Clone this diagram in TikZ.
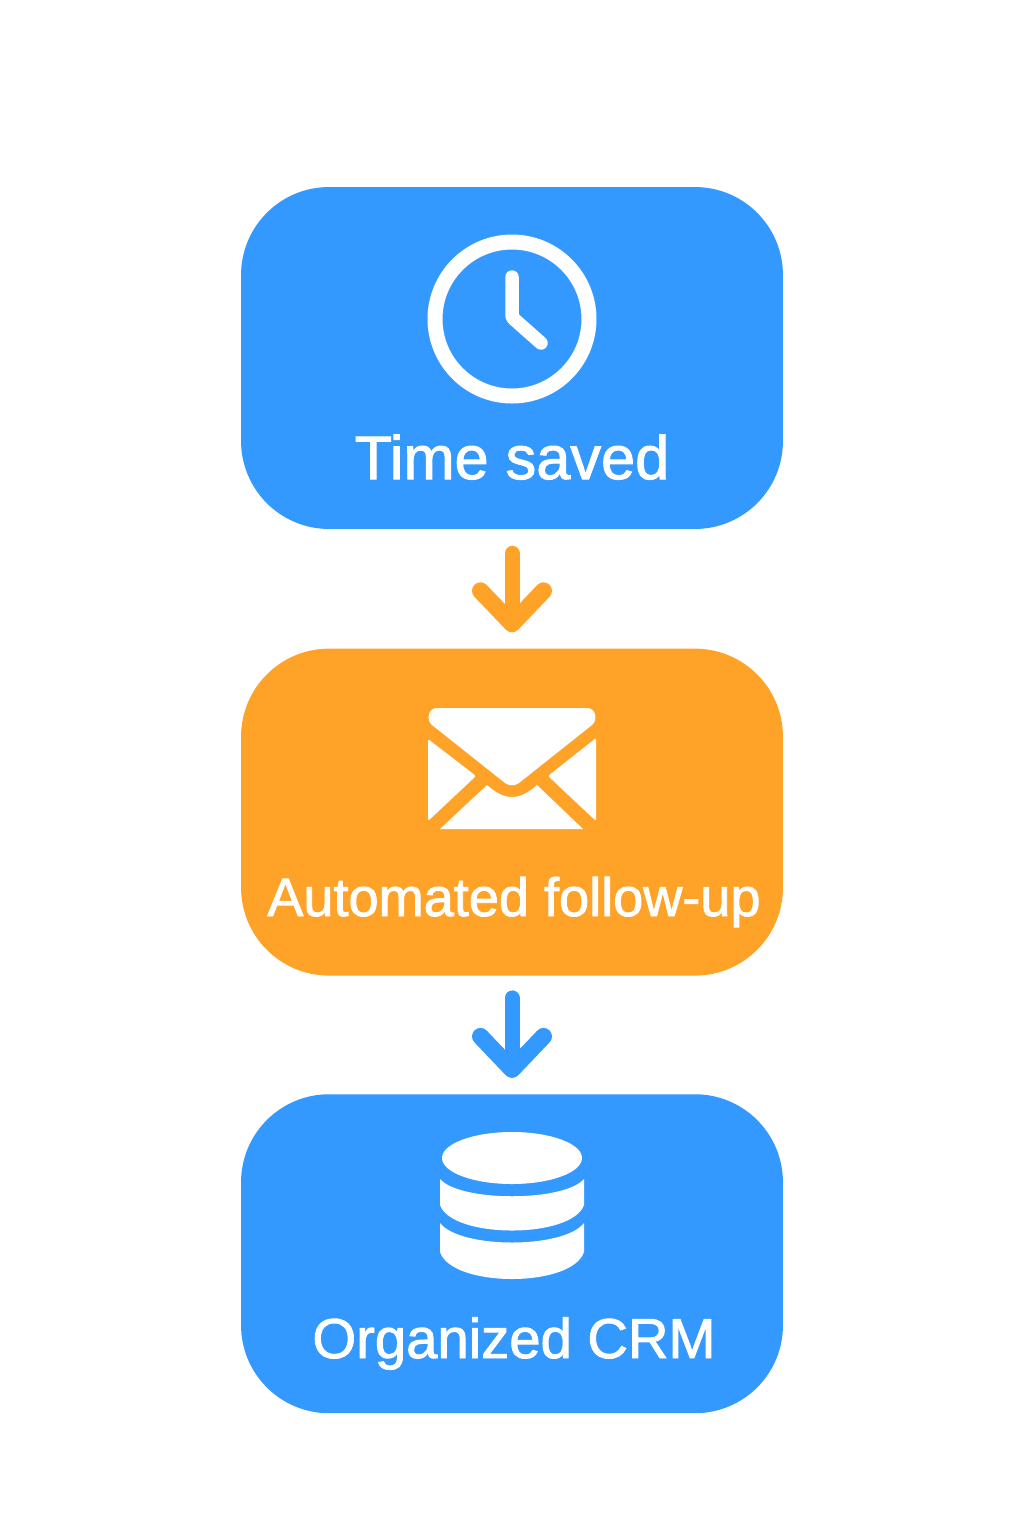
\documentclass[tikz,border=0pt]{standalone}
\usepackage{fontspec}
\setmainfont[FakeBold=1.6]{Liberation Sans}
\usetikzlibrary{arrows.meta,positioning}
\definecolor{boxblue}{HTML}{3399FF}
\definecolor{boxorange}{HTML}{FFA328}
\tikzstyle{block} = [rectangle, text width=10.84cm, rounded corners=1.76cm, inner sep=0pt]
\tikzstyle{line} = [draw, line width=0.3cm, line cap=round, shorten <=0.48cm, shorten >=0.32cm,
    -{Straight Barb[round, length=0.66cm, width=1.26cm, line width=0.34cm]}]
\tikzstyle{caption} = [text=white, anchor=base, inner sep=0pt]

\begin{document}
\begin{tikzpicture}[x=0.02cm, y=-0.02cm]
		\useasboundingbox (0,0) rectangle (1024,1536);
		% Draw nodes
		\node [block, fill=boxblue, minimum height=6.84cm] (timebox) at (512,358) {};
		\node [block, fill=boxorange, minimum height=6.54cm, below=2.38cm of timebox] (mailbox) {};
		\node [block, fill=boxblue, minimum height=6.38cm, below=2.36cm of mailbox] (crmbox) {};
		% Labels
		\node [caption, font=\fontsize{34.9}{36}\selectfont] (timetext) at (512,479) {Time saved};
		\node [caption, font=\fontsize{30.8}{36}\selectfont] (mailtext) at (514,916) {Automated follow-up};
		\node [caption, font=\fontsize{32}{36}\selectfont] (crmtext) at (514,1358) {Organized CRM};
		% Clock
		\draw [white, line width=0.3cm] (512,319) circle [radius=77];
		\draw [white, line width=0.27cm, line cap=round, line join=round] (512,277) -- (512,315)
			.. controls (512,317) .. (515,320) -- (541,343);
		% Envelope
		\fill [white] (437,708) -- (587,708) .. controls (596,708) and (598,720) .. (592,725)
			-- (519,783) .. controls (515,786) and (509,786) .. (505,783)
			-- (432,725) .. controls (426,720) and (428,708) .. (437,708) -- cycle;
		\fill [white, rounded corners=0.04cm] (428,739) -- (476,776) -- (428,821) -- cycle;
		\fill [white, rounded corners=0.04cm] (596,738) -- (548,776) -- (596,821) -- cycle;
		\fill [white] (440,829) -- (487,785) .. controls (505,801) and (519,801) .. (537,785) -- (583,829) -- cycle;
		% Cylinder
		\fill [white] (512,1158) ellipse [x radius=70, y radius=26];
		\fill [white] (440,1179) .. controls (460,1202) and (564,1202) .. (584,1179) -- (584,1205)
			.. controls (572,1239) and (452,1239) .. (440,1205) -- cycle;
		\fill [white] (440,1223) .. controls (460,1249) and (564,1249) .. (584,1223) -- (584,1252)
			.. controls (572,1288) and (452,1288) .. (440,1252) -- cycle;
		% Draw lines connecting (arrows)
		\path [line, boxorange] (timebox) -- (mailbox);
		\path [line, boxblue, shorten <=0.44cm] (mailbox) -- (crmbox);
	\end{tikzpicture}
\end{document}
